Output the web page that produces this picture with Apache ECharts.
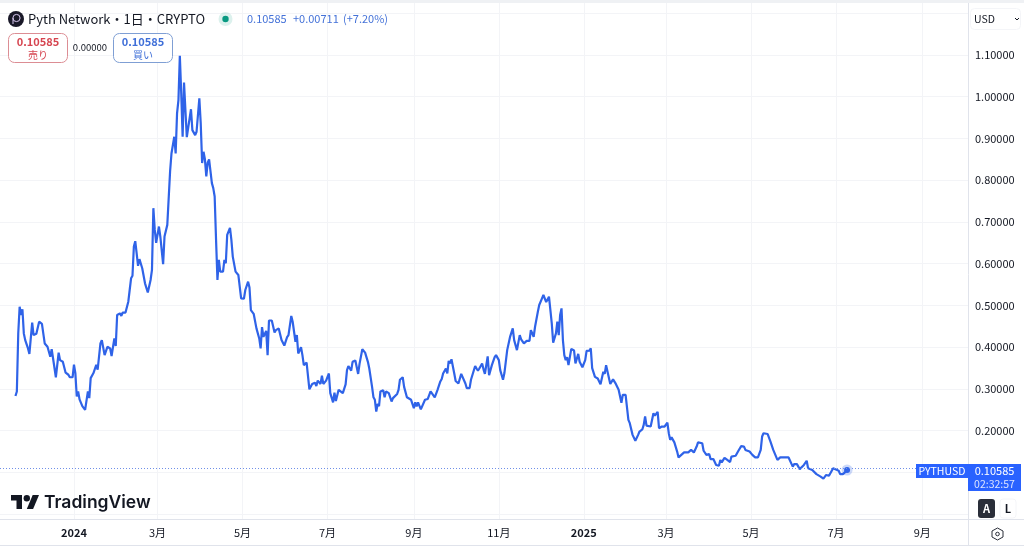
<!DOCTYPE html>
<html>
<head>
<meta charset="utf-8">
<title>Pyth Network</title>
<script src="https://cdn.jsdelivr.net/npm/echarts@6/dist/echarts.min.js"></script>
<style>
  html, body { margin: 0; padding: 0; background: #fff; }
  #chart { width: 1024px; height: 546px; }
</style>
</head>
<body>
<div id="chart"></div>
<script>
// days counted from 2024-01-01
const days = [
  -42, -41, -40, -39, -38, -37, -36, -35, -34, -33,
  -32, -30, -29, -27, -26, -25, -23, -22, -21, -19,
  -17, -16, -15, -13, -11, -10, -8, -7, -6, -4,
  -3, -1, 0, 1, 2, 3, 4, 6, 8, 10,
  11, 12, 14, 15, 16, 17, 19, 20, 22, 23,
  24, 26, 27, 29, 30, 31, 33, 34, 35, 37,
  39, 40, 41, 42, 43, 44, 45, 46, 47, 49,
  51, 52, 53, 55, 56, 57, 58, 59, 61, 62,
  64, 65, 67, 68, 69, 70, 72, 73, 74, 75,
  76, 77, 78, 79, 80, 81, 82, 84, 85, 87,
  88, 90, 91, 92, 93, 94, 95, 96, 97, 99,
  100, 101, 102, 103, 104, 105, 107, 108, 109, 110,
  111, 112, 113, 114, 116, 118, 120, 122, 123, 125,
  126, 127, 128, 129, 131, 133, 134, 135, 136, 138,
  139, 140, 142, 144, 145, 147, 149, 151, 152, 153,
  154, 156, 157, 159, 160, 161, 163, 164, 165, 167,
  169, 171, 173, 174, 175, 177, 178, 179, 181, 183,
  184, 186, 187, 188, 190, 191, 193, 195, 196, 197,
  199, 200, 202, 204, 205, 207, 209, 211, 212, 214,
  215, 216, 217, 218, 219, 220, 222, 223, 224, 226,
  228, 229, 232, 233, 234, 236, 237, 239, 240, 242,
  244, 245, 246, 247, 249, 250, 252, 254, 256, 257,
  259, 261, 263, 264, 265, 267, 268, 269, 270, 271,
  273, 274, 276, 278, 279, 281, 282, 284, 285, 286,
  288, 289, 290, 291, 293, 294, 295, 297, 298, 300,
  302, 303, 305, 306, 308, 309, 311, 313, 314, 315,
  316, 318, 320, 321, 323, 325, 327, 328, 330, 331,
  333, 334, 336, 337, 339, 341, 342, 343, 344, 345,
  346, 347, 348, 349, 350, 351, 352, 353, 354, 355,
  357, 359, 360, 362, 363, 365, 367, 368, 370, 371,
  372, 374, 376, 378, 380, 381, 382, 383, 385, 387,
  389, 390, 391, 393, 394, 396, 398, 399, 401, 403,
  405, 406, 408, 409, 410, 411, 414, 415, 416, 417,
  419, 420, 422, 424, 426, 427, 428, 429, 431, 433,
  434, 436, 438, 439, 441, 443, 445, 447, 448, 451,
  452, 454, 456, 457, 459, 461, 462, 463, 464, 465,
  467, 469, 471, 472, 473, 475, 477, 479, 481, 482,
  483, 485, 487, 489, 491, 493, 494, 495, 496, 498,
  500, 502, 503, 505, 507, 508, 510, 513, 514, 516,
  517, 519, 521, 524, 526, 527, 530, 531, 533, 536,
  538, 540, 542, 543, 545, 546, 549, 550, 552, 554,
  555
];
const prices = [
  .283, .294, .433, .497, .477, .491, .433, .417, .419, .397,
  .384, .459, .429, .432, .429, .461, .456, .457, .409, .401,
  .377, .395, .373, .328, .387, .369, .365, .368, .339, .334,
  .328, .328, .358, .338, .282, .294, .275, .259, .250, .294,
  .278, .326, .338, .334, .358, .346, .409, .417, .381, .381,
  .401, .397, .379, .421, .403, .477, .481, .475, .483, .483,
  .509, .537, .565, .571, .641, .654, .625, .595, .611, .589,
  .553, .549, .531, .561, .585, .733, .681, .650, .689, .665,
  .599, .665, .693, .693, .821, .864, .904, .864, .960, .992,
  1.098, 1.008, .904, 1.034, .968, .903, .904, .970, .920, .908,
  .916, .996, .936, .841, .868, .850, .809, .842, .850, .793,
  .781, .761, .657, .561, .609, .581, .581, .609, .601, .669,
  .665, .686, .657, .617, .581, .573, .517, .516, .537, .557,
  .543, .489, .485, .480, .445, .421, .397, .448, .425, .439,
  .381, .464, .464, .435, .441, .445, .417, .404, .408, .424,
  .429, .475, .461, .413, .429, .385, .400, .381, .357, .363,
  .299, .312, .315, .307, .320, .312, .332, .312, .320, .337,
  .290, .268, .291, .271, .298, .299, .290, .311, .345, .355,
  .344, .365, .368, .336, .360, .395, .387, .365, .349, .305,
  .280, .274, .246, .264, .259, .294, .297, .280, .294, .290,
  .270, .278, .288, .298, .322, .328, .305, .280, .276, .274,
  .254, .268, .258, .268, .251, .251, .274, .276, .294, .293,
  .280, .298, .318, .324, .337, .349, .337, .367, .361, .371,
  .337, .319, .313, .336, .337, .313, .302, .302, .322, .325,
  .355, .349, .344, .349, .361, .347, .336, .378, .333, .357,
  .376, .381, .369, .345, .322, .338, .393, .424, .424, .445,
  .417, .393, .429, .419, .409, .415, .415, .441, .425, .449,
  .485, .501, .517, .525, .508, .521, .521, .457, .411, .411,
  .433, .461, .429, .477, .493, .417, .381, .369, .376, .357,
  .396, .392, .361, .384, .365, .352, .369, .391, .392, .397,
  .350, .329, .325, .311, .341, .336, .357, .357, .312, .323,
  .312, .314, .298, .267, .286, .286, .226, .218, .190, .176,
  .190, .198, .203, .214, .234, .212, .210, .212, .242, .236,
  .245, .206, .210, .210, .219, .194, .178, .184, .172, .150,
  .136, .142, .148, .150, .148, .154, .148, .162, .172, .170,
  .152, .142, .144, .132, .132, .118, .120, .116, .130, .124,
  .135, .130, .125, .138, .142, .140, .152, .163, .162, .154,
  .156, .150, .142, .136, .136, .154, .186, .194, .190, .192,
  .174, .154, .154, .130, .136, .134, .136, .136, .134, .114,
  .120, .120, .108, .118, .128, .110, .106, .105, .096, .090,
  .085, .094, .092, .096, .110, .106, .104, .096, .096, .102,
  .10585
];
const tickDates = ['2024-01-01', '2024-03-01', '2024-05-01', '2024-07-01', '2024-09-01', '2024-11-01', '2025-01-01', '2025-03-01', '2025-05-01', '2025-07-01', '2025-09-01'];
const tickLabels = ['2024', '3月', '5月', '7月', '9月', '11月', '2025', '3月', '5月', '7月', '9月'];
const priceTicks = [0.2, 0.3, 0.4, 0.5, 0.6, 0.7, 0.8, 0.9, 1.0, 1.1];

const FONT = '"Noto Sans CJK JP", "Noto Sans", sans-serif';
const BLUE = '#2f63e8';
const TAG = '#2962ff';
const GRID = '#f3f4f7';
const BORDER = '#e0e3eb';
const DAY = 86400000;
const T0 = Date.UTC(2024, 0, 1);

const toTime = d => T0 + d * DAY;
const tickTimes = tickDates.map(d => new Date(d + 'T00:00:00Z').getTime());
const lineData = days.map((d, i) => [toTime(d), prices[i]]);
const lastPoint = lineData[lineData.length - 1];
const minTime = toTime(-53.1);
const maxTime = toTime(641.8);

const txt = (x, y, text, size, fill, extra) => ({
  type: 'text', x, y, silent: true,
  style: Object.assign({ text, fontSize: size, fontFamily: FONT, fill, textVerticalAlign: 'middle' }, extra)
});
const box = (x, y, w, h, r, fill, stroke) => ({
  type: 'rect', silent: true,
  shape: { x, y, width: w, height: h, r },
  style: { fill, stroke: stroke || null, lineWidth: 1 }
});
const rule = (x1, y1, x2, y2) => ({
  type: 'line', silent: true,
  shape: { x1, y1, x2, y2 },
  style: { stroke: BORDER, lineWidth: 1 }
});

const chrome = [
  // borders
  box(0, 0, 1024, 3, 0, '#eff1f4'),
  rule(968.5, 3, 968.5, 546),
  rule(0, 519.5, 1024, 519.5),
  rule(0, 545.5, 1024, 545.5),

  // header
  { type: 'circle', silent: true, shape: { cx: 16, cy: 19, r: 8 }, style: { fill: '#191828' } },
  { type: 'circle', silent: true, shape: { cx: 16.5, cy: 18, r: 3.6 }, style: { fill: 'none', stroke: '#d8c8f0', lineWidth: 1 } },
  { type: 'line', silent: true, shape: { x1: 13, y1: 18, x2: 13, y2: 24 }, style: { stroke: '#d8c8f0', lineWidth: 1 } },
  txt(28, 19, 'Pyth Network・1日・CRYPTO', 13, '#131722'),
  { type: 'circle', silent: true, shape: { cx: 225.5, cy: 19, r: 7 }, style: { fill: 'rgba(8,153,129,0.14)' } },
  { type: 'circle', silent: true, shape: { cx: 225.5, cy: 19, r: 3.2 }, style: { fill: '#089981' } },
  txt(247, 19, '0.10585', 11, '#4472d8'),
  txt(293, 19, '+0.00711', 11, '#4472d8'),
  txt(343, 19, '(+7.20%)', 11, '#4472d8'),

  // sell / buy
  box(8.5, 33.5, 59, 29, 6, '#fff', '#dc8d94'),
  txt(38, 42, '0.10585', 11, '#d64550', { textAlign: 'center', fontWeight: 'bold' }),
  txt(38, 55, '売り', 10, '#d64550', { textAlign: 'center' }),
  txt(90, 47, '0.00000', 9.5, '#131722', { textAlign: 'center' }),
  box(113.5, 33.5, 59, 29, 6, '#fff', '#7f9fd4'),
  txt(143, 42, '0.10585', 11, '#3f6fd8', { textAlign: 'center', fontWeight: 'bold' }),
  txt(143, 55, '買い', 10, '#3f6fd8', { textAlign: 'center' }),

  // currency
  box(970.5, 8.5, 50, 21, 4, '#fff', '#f4f5f8'),
  txt(974, 19, 'USD', 10.5, '#131722'),
  { type: 'polyline', silent: true, shape: { points: [[1015, 18], [1017, 20], [1019, 18]] }, style: { fill: 'none', stroke: '#131722', lineWidth: 1 } },

  // last price tags
  box(916, 464, 52, 14, 0, TAG),
  txt(942, 471, 'PYTHUSD', 10.5, '#fff', { textAlign: 'center' }),
  box(968, 464, 53, 27, 0, TAG),
  txt(994.5, 471, '0.10585', 11, '#fff', { textAlign: 'center' }),
  txt(994.5, 484, '02:32:57', 10.5, '#dbe4ff', { textAlign: 'center' }),

  // A / L
  box(978, 499, 17, 19, 3, '#2a2e39'),
  txt(986.5, 508.5, 'A', 11, '#fff', { textAlign: 'center', fontWeight: 'bold' }),
  box(1000, 499, 16, 19, 3, '#fff', '#f4f5f8'),
  txt(1008, 508.5, 'L', 11, '#131722', { textAlign: 'center', fontWeight: 'bold' }),

  // settings
  {
    type: 'polygon', silent: true,
    shape: { points: [[997.5, 528], [1003, 531], [1003, 537], [997.5, 540], [992, 537], [992, 531]] },
    style: { fill: 'none', stroke: '#2a2e39', lineWidth: 1 }
  },
  { type: 'circle', silent: true, shape: { cx: 997.5, cy: 534, r: 1.8 }, style: { fill: 'none', stroke: '#2a2e39', lineWidth: 1 } },

  // TradingView mark
  {
    type: 'polygon', silent: true,
    shape: { points: [[11, 495], [22, 495], [22, 509], [16.5, 509], [16.5, 500.5], [11, 500.5]] },
    style: { fill: '#131722' }
  },
  {
    type: 'polygon', silent: true,
    shape: { points: [[26.8, 509], [32.7, 495], [39, 495], [33.1, 509]] },
    style: { fill: '#131722' }
  },
  { type: 'circle', silent: true, shape: { cx: 26.8, cy: 498.2, r: 3.2 }, style: { fill: '#131722' } },
  txt(44, 503, 'TradingView', 17.5, '#131722', { fontFamily: 'Inter, ' + FONT, fontWeight: 600 })
];

const chart = echarts.init(document.getElementById('chart'));
chart.setOption({
  animation: false,
  textStyle: { fontFamily: FONT },
  grid: [
    { left: 0, top: 13.2, width: 968, height: 501 },
    { left: 0, top: 3, width: 968, height: 516 }
  ],
  xAxis: [
    { type: 'value', gridIndex: 0, min: minTime, max: maxTime, show: false },
    {
      type: 'value', gridIndex: 1, min: minTime, max: maxTime,
      axisLine: { show: false },
      axisTick: { show: false, customValues: tickTimes },
      splitLine: { show: true, customValues: tickTimes, lineStyle: { color: GRID, width: 1 } },
      axisLabel: {
        customValues: tickTimes,
        margin: 8,
        hideOverlap: false,
        showMinLabel: true,
        showMaxLabel: true,
        formatter: v => {
          const label = tickLabels[tickTimes.indexOf(v)];
          return /^\d+$/.test(label) ? '{year|' + label + '}' : '{month|' + label + '}';
        },
        rich: {
          year: { fontSize: 11, fontWeight: 'bold', color: '#131722', fontFamily: FONT },
          month: { fontSize: 11, color: '#131722', fontFamily: FONT }
        }
      }
    }
  ],
  yAxis: [
    {
      type: 'value', gridIndex: 0, position: 'right', min: 0, max: 1.2, interval: 0.1,
      axisLine: { show: false },
      axisTick: { show: false },
      splitLine: { show: true, lineStyle: { color: GRID, width: 1 } },
      axisLabel: {
        customValues: priceTicks,
        margin: 7,
        fontSize: 11,
        color: '#131722',
        formatter: v => v.toFixed(5)
      }
    },
    { type: 'value', gridIndex: 1, min: 0, max: 1, show: false }
  ],
  series: [
    {
      type: 'line', xAxisIndex: 0, yAxisIndex: 0,
      data: lineData,
      showSymbol: false,
      sampling: 'none',
      lineStyle: { color: BLUE, width: 2.2 },
      itemStyle: { color: BLUE },
      markLine: {
        silent: true,
        symbol: 'none',
        label: { show: false },
        lineStyle: { color: '#6f8fe8', type: [1, 2], width: 1 },
        data: [{ yAxis: lastPoint[1] }]
      }
    },
    {
      type: 'scatter', xAxisIndex: 0, yAxisIndex: 0,
      data: [lastPoint], symbolSize: 11, silent: true,
      itemStyle: { color: 'rgba(47, 99, 232, 0.3)' }
    },
    {
      type: 'scatter', xAxisIndex: 0, yAxisIndex: 0,
      data: [lastPoint], symbolSize: 6, silent: true,
      itemStyle: { color: BLUE, opacity: 1 }
    }
  ],
  graphic: chrome.map(el => Object.assign({ z: 100 }, el))
});
</script>
</body>
</html>
